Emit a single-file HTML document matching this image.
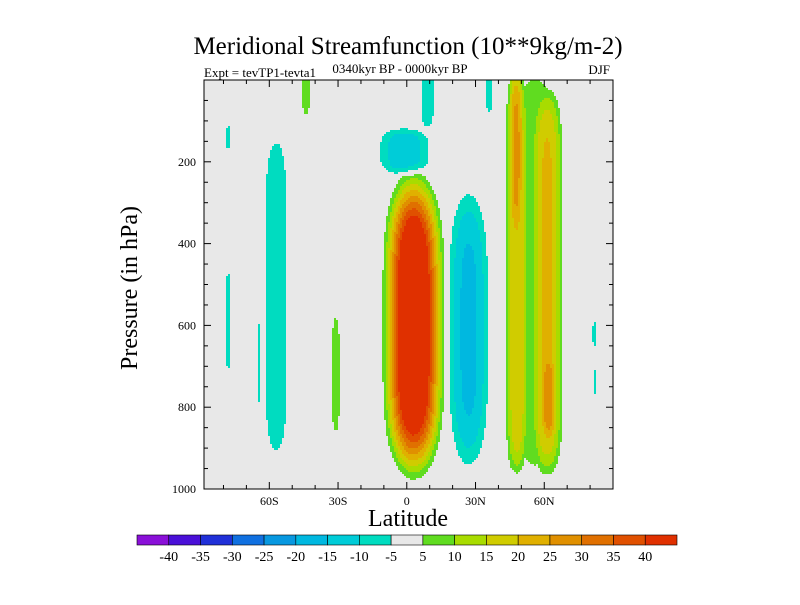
<!DOCTYPE html>
<html><head><meta charset="utf-8"><style>
body{margin:0;background:#fff;width:800px;height:600px;overflow:hidden;font-family:"Liberation Serif",serif}
svg text{font-family:"Liberation Serif",serif}
</style></head><body>
<svg id="chart" width="800" height="600" xmlns="http://www.w3.org/2000/svg">
<text x="408" y="54" font-size="25" text-anchor="middle">Meridional Streamfunction (10**9kg/m-2)</text>
<text x="204" y="77" font-size="13">Expt = tevTP1-tevta1</text>
<text x="400" y="73" font-size="13" text-anchor="middle">0340kyr BP - 0000kyr BP</text>
<text x="610" y="74" font-size="13" text-anchor="end">DJF</text>
<rect x="204" y="80" width="409" height="409" fill="#e8e8e8"/>
<g id="field"></g>
<rect x="204" y="80" width="409" height="409" fill="none" stroke="#000" stroke-width="1"/>
<g id="axes"></g>
<text x="408" y="526" font-size="24" text-anchor="middle">Latitude</text>
<text transform="translate(137,288) rotate(-90)" font-size="24" text-anchor="middle">Pressure (in hPa)</text>
<g id="cbar"></g>
</svg>
<script>
const levelColors=["#8a10d8","#4a10d8","#2030d8","#1070e0","#0898e0","#00b8e0","#00ccd8","#00dcc0","#e8e8e8","#60dc20","#a8dc00","#d0cc00","#e0b000","#e09000","#e07000","#e05000","#e03000"];
const levelLabels=["-40","-35","-30","-25","-20","-15","-10","-5","5","10","15","20","25","30","35","40"];
const latTicks=[-60,-30,0,30,60];
const latTickLabels=["60S","30S","0","30N","60N"];
const presTicks=[200,400,600,800,1000];
// field features: center lat, center pressure, lat half-width, pressure half-height, peak value, profile exponent, pressure shape exponent
const blobLat=[3,-1,27,47.5,47.5,62,56,-57,-31,-44,9,-78,-78,-64.5,82,82,36,62];
const blobP=[600,175,610,120,470,500,470,530,720,30,40,590,140,690,620,740,30,780];
const blobLw=[16,13,10,3,5,7,13,7,2.5,2.5,4,1.2,1.2,1.2,1.5,1.2,2,3];
const blobPw=[410,62,360,250,510,480,520,430,170,70,90,180,40,130,40,40,60,100];
const blobPeak=[60,-14,-17,8,15,15,8,-9,9,8,-9,-7,-7,-7,-7,-7,-8,8];
const blobExp=[2,1,1,1,1,1,1,1,1,1,1,1,1,1,1,1,1,1];
const blobPexp=[4,4,4,4,10,8,10,6,4,4,4,4,4,4,4,4,4,4];

const NS="http://www.w3.org/2000/svg";
const X0=204,X1=613,Y0=80,Y1=489;
const latMin=-88.5,latMax=90,pMin=0,pMax=1000;
const xs=l=>X0+(l-latMin)/(latMax-latMin)*(X1-X0);
const ys=p=>Y0+(p-pMin)/(pMax-pMin)*(Y1-Y0);
const xinv=x=>latMin+(x-X0)/(X1-X0)*(latMax-latMin);
const yinv=y=>pMin+(y-Y0)/(Y1-Y0)*(pMax-pMin);
function value(l,p){let v=0;for(let i=0;i<blobLat.length;i++){const dx=(l-blobLat[i])/blobLw[i],dy=Math.abs(p-blobP[i])/blobPw[i];const d=dx*dx+Math.pow(dy,blobPexp[i]);if(d<1)v+=blobPeak[i]*Math.pow(1-d,blobExp[i]);}return v;}
function idx(v){if(v>=5)return Math.min(16,9+Math.floor((v-5)/5));if(v<-5)return Math.max(0,7-Math.floor((-5-v)/5));return 8;}
const field=document.getElementById('field');
const step=2;
for(let y=Y0;y<Y1;y+=step){let run=null;
 for(let x=X0;x<=X1;x+=step){const c=x<X1?idx(value(xinv(x+1),yinv(y+1))):-1;
  if(run&&run.c!==c){if(run.c!==8){const r=document.createElementNS(NS,'rect');
   
   
   r.setAttribute('x',run.x);r.setAttribute('y',y);r.setAttribute('width',Math.min(x,X1)-run.x);r.setAttribute('height',step);r.setAttribute('fill',levelColors[run.c]);field.appendChild(r);}run=null;}
  if(!run&&c>=0)run={x:x,c:c};}}
const axes=document.getElementById('axes');
function line(x1,y1,x2,y2,n){const l=document.createElementNS(NS,'line');
 
 
 l.setAttribute('x1',x1);l.setAttribute('y1',y1);l.setAttribute('x2',x2);l.setAttribute('y2',y2);l.setAttribute('stroke','#000');axes.appendChild(l);}
function text(x,y,s,anchor,size,n,parent){const t=document.createElementNS(NS,'text');
 
 
 t.setAttribute('x',x);t.setAttribute('y',y);t.setAttribute('text-anchor',anchor);t.setAttribute('font-size',size);t.textContent=s;(parent||axes).appendChild(t);}
for(let l=-80;l<=90;l+=10){const x=xs(l);const maj=l%30===0;line(x,Y1,x,Y1-(maj?7:4),'x-tick');line(x,Y0,x,Y0+(maj?7:4),'x-tick-top');}
latTicks.forEach((l,i)=>text(xs(l),Y1+16,latTickLabels[i],'middle',12,'x-tick-label'));
for(let p=50;p<=1000;p+=50){const y=ys(p);const maj=p%200===0;line(X0,y,X0+(maj?7:4),y,'y-tick');line(X1,y,X1-(maj?7:4),y,'y-tick-right');}
presTicks.forEach(p=>text(X0-8,ys(p)+4,String(p),'end',12,'y-tick-label'));
const cb=document.getElementById('cbar');const cx0=137,cx1=677,cw=(cx1-cx0)/levelColors.length;
levelColors.forEach((c,i)=>{const r=document.createElementNS(NS,'rect');
 
 
 r.setAttribute('x',cx0+i*cw);r.setAttribute('y',535);r.setAttribute('width',cw);r.setAttribute('height',10);r.setAttribute('fill',c);r.setAttribute('stroke','#000');r.setAttribute('stroke-width','0.6');cb.appendChild(r);});
levelLabels.forEach((s,i)=>text(cx0+(i+1)*cw,561,s,'middle',14,'colorbar-label',cb));
</script>
</body></html>
